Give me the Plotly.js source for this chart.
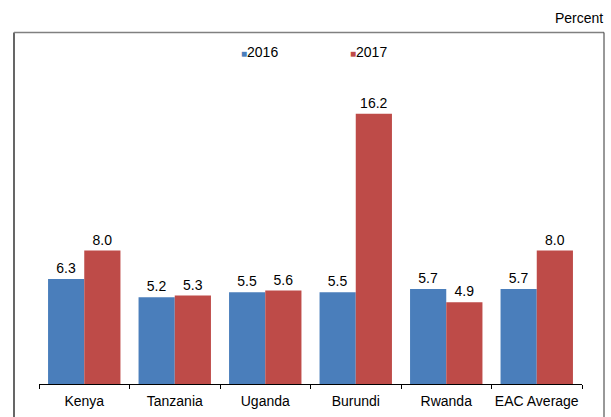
<!DOCTYPE html>
<html>
<head>
<meta charset="utf-8">
<script src="https://cdn.plot.ly/plotly-3.0.1.min.js"></script>
<style>html,body{margin:0;padding:0;background:#fff;}#chart{width:611px;height:417px;}</style>
</head>
<body>
<div id="chart"></div>
<script>
const categories = ["Kenya", "Tanzania", "Uganda", "Burundi", "Rwanda", "EAC Average"];
const values2016 = [6.3, 5.2, 5.5, 5.5, 5.7, 5.7];
const values2017 = [8.0, 5.3, 5.6, 16.2, 4.9, 8.0];
const seriesNames = ["2016", "2017"];

const FONT = "Liberation Sans, Arial, Helvetica, sans-serif";
const BLUE = "#4A7EBB";
const RED = "#BE4B48";
const colors = [BLUE, RED];

const traces = [
  {type: "bar", name: seriesNames[0], x: categories, y: values2016,
   marker: {color: BLUE}, texttemplate: "%{y:.1f}", textposition: "outside",
   textfont: {family: FONT, size: 14, color: "#000"}, cliponaxis: false, hoverinfo: "skip"},
  {type: "bar", name: seriesNames[1], x: categories, y: values2017,
   marker: {color: RED}, texttemplate: "%{y:.1f}", textposition: "outside",
   textfont: {family: FONT, size: 14, color: "#000"}, cliponaxis: false, hoverinfo: "skip"}
];

const L = 39, R = 582, T = 32, B = 384;
const px2x = p => (p - L) / (R - L);
const px2y = p => (B - p) / (B - T);

const legendX = [239, 348];
const legendAnn = seriesNames.map((n, i) => ({
  text: '<span style="color:' + colors[i] + ';font-size:10px">■</span>' + n,
  xref: "paper", yref: "paper", x: px2x(legendX[i]), y: px2y(52), xanchor: "left", yanchor: "middle",
  showarrow: false, font: {family: FONT, size: 14, color: "#000"}
}));

const layout = {
  width: 611, height: 417,
  margin: {l: L, r: 611 - R, t: T, b: 417 - B},
  paper_bgcolor: "#fff", plot_bgcolor: "rgba(0,0,0,0)",
  font: {family: FONT, size: 14, color: "#000"},
  barmode: "group", bargap: 0.2, bargroupgap: 0,
  showlegend: false,
  xaxis: {type: "category", showline: true, linecolor: "#000", linewidth: 1,
          ticks: "outside", tickson: "boundaries", ticklen: 4, tickcolor: "#000", tickwidth: 1,
          ticklabelstandoff: 4, tickangle: 0, automargin: false,
          showgrid: false, zeroline: false, tickfont: {family: FONT, size: 14, color: "#000"}},
  yaxis: {range: [0, 21.1], visible: false, showgrid: false, zeroline: false, fixedrange: true},
  shapes: [
    {type: "line", xref: "paper", yref: "paper", x0: px2x(14), x1: px2x(14), y0: px2y(32.5), y1: px2y(425), line: {color: "#000", width: 1.2}},
    {type: "line", xref: "paper", yref: "paper", x0: px2x(14), x1: px2x(604), y0: px2y(32.5), y1: px2y(32.5), line: {color: "#808080", width: 1.5}},
    {type: "line", xref: "paper", yref: "paper", x0: px2x(604), x1: px2x(604), y0: px2y(32.5), y1: px2y(425), line: {color: "#333", width: 1}}
  ],
  annotations: [
    {text: "Percent", xref: "paper", yref: "paper", x: px2x(605), y: px2y(18), xanchor: "right", yanchor: "middle",
     showarrow: false, font: {family: FONT, size: 14, color: "#000"}}
  ].concat(legendAnn)
};

Plotly.newPlot("chart", traces, layout, {displayModeBar: false, staticPlot: true});
</script>
</body>
</html>
